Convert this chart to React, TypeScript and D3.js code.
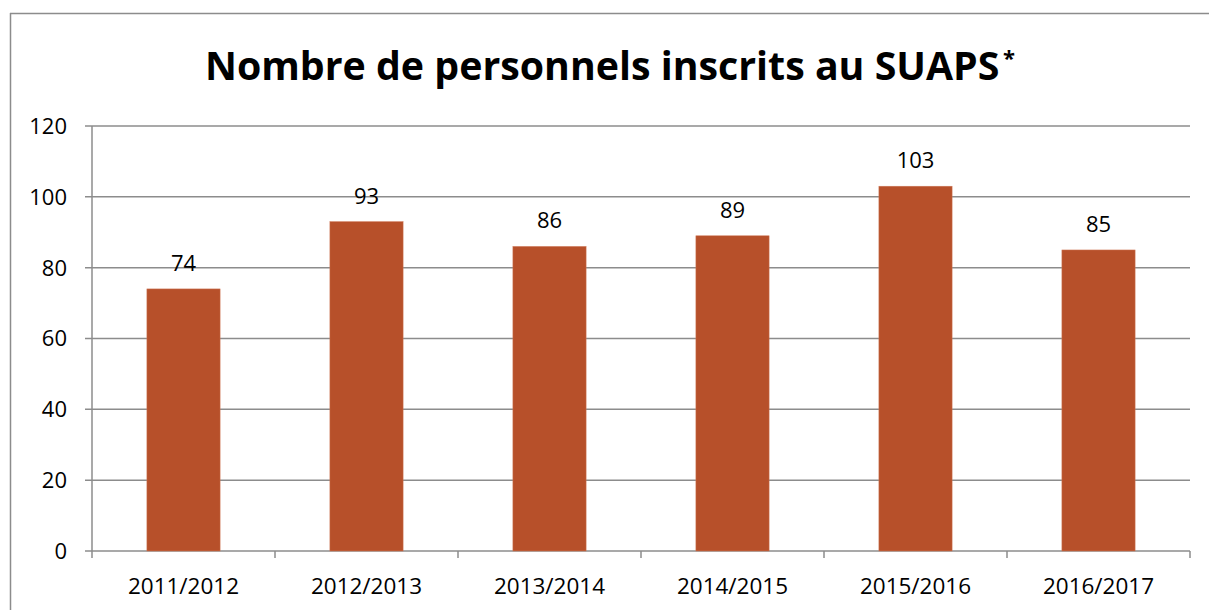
import React, { useLayoutEffect, useRef, useState } from "react";
import * as d3 from "d3";

const categories = ["2011/2012", "2012/2013", "2013/2014", "2014/2015", "2015/2016", "2016/2017"];
const values = [74, 93, 86, 89, 103, 85];
const yTicks = [0, 20, 40, 60, 80, 100, 120];
const titleText = "Nombre de personnels inscrits au SUAPS";

export default function App() {
  const W = 1209, H = 610;
  const left = 92, right = 1190, top = 126, bottom = 551;
  const x = d3.scaleBand<string>().domain(categories).range([left, right]).paddingInner(0.6).paddingOuter(0.3);
  const band = d3.scaleBand<string>().domain(categories).range([left, right]);
  const y = d3.scaleLinear().domain([0, 120]).range([bottom, top]);
  const grid = "#8c8c8c";
  const font = "'Open Sans', 'Noto Sans', sans-serif";
  const titleRef = useRef<SVGTextElement>(null);
  const [titleSize, setTitleSize] = useState(40);
  useLayoutEffect(() => {
    const el = titleRef.current;
    if (!el) return;
    const len = el.getComputedTextLength();
    if (len > 0) {
      const target = 794;
      const next = Math.round((titleSize * target) / len * 10) / 10;
      if (Math.abs(next - titleSize) > 0.15) setTitleSize(next);
    }
  }, [titleSize]);
  return (
    <svg width={W} height={H} style={{ position: "absolute", left: 0, top: 0, background: "#fff" }}>
      <rect x={0} y={0} width={W} height={H} fill="#fff" />
      <line x1={10} y1={13.5} x2={W} y2={13.5} stroke={grid} strokeWidth={1.5} />
      <line x1={10.5} y1={13} x2={10.5} y2={H} stroke={grid} strokeWidth={1.5} />
      <text ref={titleRef} x={205} y={80} fontFamily={font} fontWeight="bold" fontSize={titleSize} fill="#000">
        {titleText}
      </text>
      <text x={1003} y={66} fontFamily={font} fontWeight="bold" fontSize={22} fill="#000">*</text>
      {yTicks.map((t) => (
        <g key={t}>
          <line x1={85} x2={right} y1={y(t)} y2={y(t)} stroke={grid} strokeWidth={1.5} />
          <text x={67} y={y(t)} dy="0.36em" textAnchor="end" fontFamily={font} fontSize={22} fill="#000">{t}</text>
        </g>
      ))}
      <line x1={left} x2={left} y1={top} y2={bottom + 7} stroke={grid} strokeWidth={1.5} />
      {categories.map((c) => (
        <line key={"t" + c} x1={(band(c) as number) + band.bandwidth()} x2={(band(c) as number) + band.bandwidth()} y1={bottom} y2={bottom + 7} stroke={grid} strokeWidth={1.5} />
      ))}
      {categories.map((c, i) => (
        <g key={c}>
          <rect x={x(c)} y={y(values[i])} width={x.bandwidth()} height={bottom - y(values[i])} fill="#B7502A" stroke="#d07a5a" strokeWidth={0.5} />
          <text x={(x(c) as number) + x.bandwidth() / 2} y={y(values[i]) - 18} textAnchor="middle" fontFamily={font} fontSize={22} fill="#000">{values[i]}</text>
          <text x={(band(c) as number) + band.bandwidth() / 2} y={594} textAnchor="middle" fontFamily={font} fontSize={22.5} fill="#000">{c}</text>
        </g>
      ))}
    </svg>
  );
}
